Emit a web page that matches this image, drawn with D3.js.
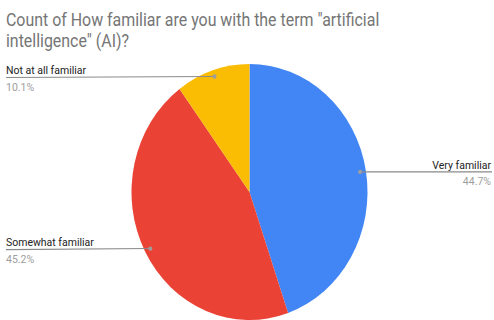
<!DOCTYPE html>
<html>
<head>
<meta charset="utf-8">
<script src="https://cdn.jsdelivr.net/npm/d3@7"></script>
<style>
  html, body { margin: 0; padding: 0; background: #fff; }
  svg { display: block; }
</style>
</head>
<body>
<svg id="chart" width="494" height="320"></svg>
<script>
const titleLines = ['Count of How familiar are you with the term "artificial', 'intelligence" (AI)?'];
const categories = ["Very familiar", "Somewhat familiar", "Not at all familiar"];
const values = [44.7, 45.2, 10.1];
const pctLabels = ["44.7%", "45.2%", "10.1%"];
const colors = ["#4285F4", "#EA4335", "#FBBC04"];

const W = 494, H = 320;
const sy = 128 / 118;           // the reference is stretched vertically
const cx = 249.5, cy = 177, r = 118;

const svg = d3.select("#chart");
const root = svg.append("g").attr("transform", `scale(1,${sy})`);

// title
root.append("g").attr("transform", "translate(6,0) scale(0.91,1)")
  .append("text")
  .attr("font-family", "Roboto, Arial, sans-serif")
  .attr("font-size", 17.5)
  .attr("fill", "#757575")
  .selectAll("tspan").data(titleLines).join("tspan")
  .attr("x", 0)
  .attr("y", (d, i) => 24 + i * 19.5)
  .text(d => d);

const pie = d3.pie().sort(null).value(d => d)(values);
const arc = d3.arc().innerRadius(0).outerRadius(r);

const g = root.append("g").attr("transform", `translate(${cx},${cy})`);
g.selectAll("path").data(pie).join("path")
  .attr("d", arc)
  .attr("fill", (d, i) => colors[i]);

// labels
const labelArc = d3.arc().innerRadius(r * 0.95).outerRadius(r * 0.95);
pie.forEach((d, i) => {
  const [px, py] = labelArc.centroid(d);
  const dx = cx + px, dy = cy + py;
  const mid = (d.startAngle + d.endAngle) / 2;
  const right = mid < Math.PI;
  const xEnd = right ? 492 : 6;
  const ly = dy + (right ? 0 : 1);
  root.append("line")
    .attr("x1", dx).attr("y1", dy)
    .attr("x2", xEnd).attr("y2", ly)
    .attr("stroke", "#8a8a8a").attr("stroke-width", 1);
  root.append("circle")
    .attr("cx", dx).attr("cy", dy).attr("r", 2)
    .attr("fill", "#9e9e9e");
  const anchor = right ? "end" : "start";
  const tx = right ? 491 : 6;
  root.append("text")
    .attr("x", tx).attr("y", ly - 3)
    .attr("text-anchor", anchor)
    .attr("font-family", "Roboto, Arial, sans-serif")
    .attr("font-size", 10.5)
    .attr("fill", "#222")
    .text(categories[i]);
  root.append("text")
    .attr("x", tx).attr("y", ly + 12)
    .attr("text-anchor", anchor)
    .attr("font-family", "Roboto, Arial, sans-serif")
    .attr("font-size", 10.5)
    .attr("fill", "#9e9e9e")
    .text(pctLabels[i]);
});
</script>
</body>
</html>
